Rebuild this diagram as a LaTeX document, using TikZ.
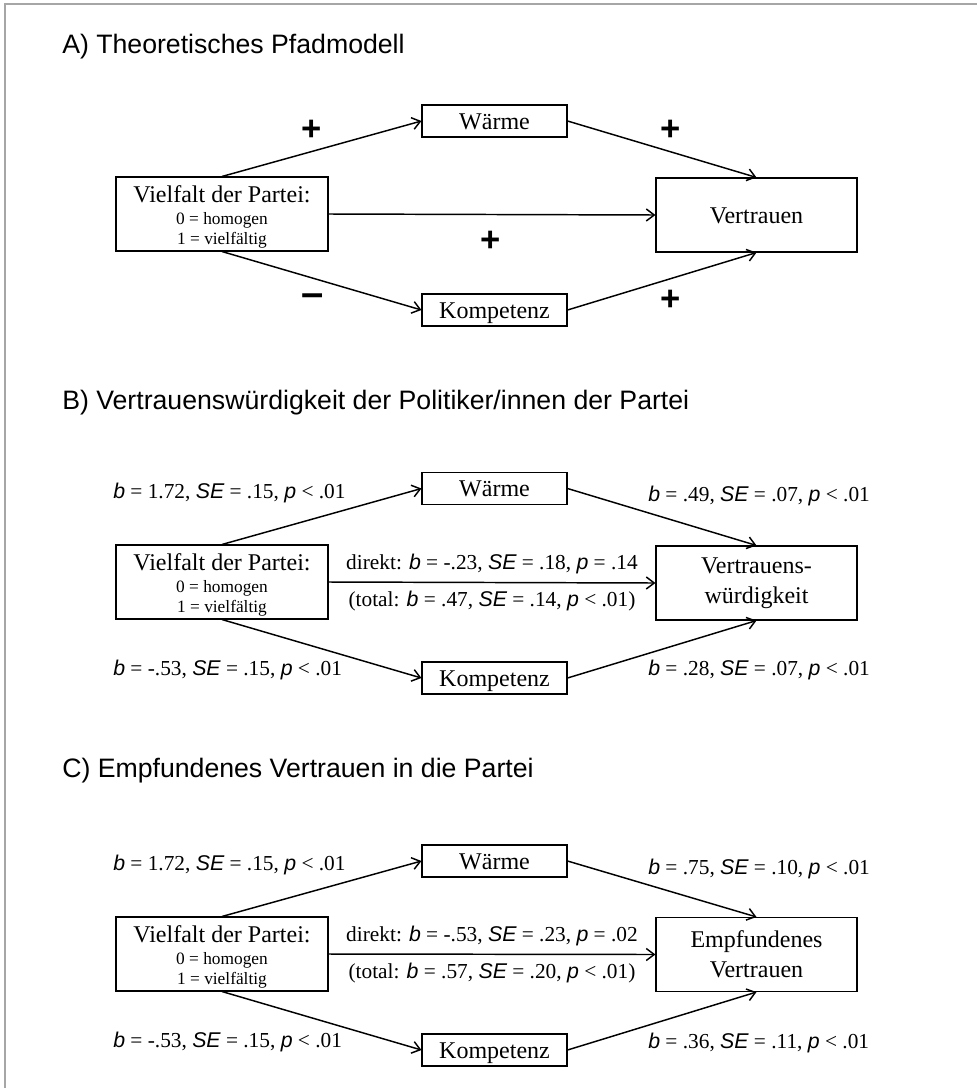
\documentclass[tikz,border=0pt]{standalone}
\usepackage{fontspec}
\setmainfont{Liberation Serif}
\setsansfont{Liberation Sans}
\usetikzlibrary{arrows.meta}

\newcommand{\stat}[1]{{\sffamily\itshape #1}}
\newcommand{\vielfalttext}{\parbox{150pt}{\vspace*{4pt}\centering Vielfalt der Partei:\par\vspace{1.5pt}
    \fontsize{13}{15}\selectfont 0 = homogen\par 1 = vielfältig}}

\begin{document}
\begin{tikzpicture}[x=0.75pt, y=-0.75pt,
    box/.style={draw, line width=0.8pt, inner sep=0pt, align=center, font=\fontsize{18}{22.5}\selectfont},
    oneline/.style={text height=12.5pt, text depth=0.5pt},
    smallbox/.style={box, oneline, minimum width=108.75pt, minimum height=24pt},
    bigbox/.style={draw, line width=0.8pt, inner sep=0pt, font=\fontsize{18}{22.5}\selectfont, minimum width=159pt, minimum height=55.5pt},
    outbox/.style={box, minimum width=150.75pt, minimum height=55.5pt},
    pfeil/.style={line width=1.1pt, -{Straight Barb[length=6pt,width=9pt,line width=1.1pt]}},
    heading/.style={anchor=west, inner sep=0pt, font=\sffamily\fontsize{20}{22}\selectfont},
    sign/.style={inner sep=0pt, font=\sffamily\bfseries\fontsize{26}{26}\selectfont},
    stats/.style={anchor=west, inner sep=0pt, font=\fontsize{16}{18}\selectfont}
  ]
  \useasboundingbox (0,0) rectangle (977,1088);
  \draw[line width=1.5pt, black!35] (5,1088) -- (5,4) -- (977,4);

  % A) theoretical model
  \node[heading] (titelA) at (62,47) {A) Theoretisches Pfadmodell};
  \node[bigbox] (vielfaltA) at (222,214) {\vielfalttext};
  \node[smallbox] (waermeA) at (494.5,121) {Wärme};
  \node[smallbox] (kompA) at (494.5,310) {Kompetenz};
  \node[outbox, oneline] (vertrauenA) at (756.5,215) {Vertrauen};

  \draw[pfeil] (vielfaltA.north) -- (waermeA.west);
  \draw[pfeil] (vielfaltA.south) -- (kompA.west);
  \draw[pfeil] (waermeA.east) -- (vertrauenA.north);
  \draw[pfeil] (kompA.east) -- (vertrauenA.south);
  \draw[pfeil] (vielfaltA.east) -- (vertrauenA.west);

  \node[sign] (plusA1) at (312,130) {+};
  \node[sign] (plusA2) at (671,130) {+};
  \node[sign] (plusA3) at (491,241) {+};
  \node[sign, font=\sffamily\bfseries\fontsize{30}{30}\selectfont] (minusA) at (313,300) {–};
  \node[sign] (plusA4) at (671,300) {+};

  % B) trustworthiness
  \node[heading] (titelB) at (62,403) {B) Vertrauenswürdigkeit der Politiker/innen der Partei};
  \node[bigbox] (vielfaltB) at (222,582) {\vielfalttext};
  \node[smallbox] (waermeB) at (494.5,488.5) {Wärme};
  \node[smallbox] (kompB) at (494.5,678) {Kompetenz};
  \node[outbox] (vertrauenB) at (756.5,583) {Vertrauens-\\würdigkeit};

  \draw[pfeil] (vielfaltB.north) -- (waermeB.west);
  \draw[pfeil] (vielfaltB.south) -- (kompB.west);
  \draw[pfeil] (waermeB.east) -- (vertrauenB.north);
  \draw[pfeil] (kompB.east) -- (vertrauenB.south);
  \draw[pfeil] (vielfaltB.east) -- (vertrauenB.west)
    node[midway, above=6pt, inner sep=0pt, font=\fontsize{16}{18}\selectfont] (direktB) {direkt: \stat{b} = -.23, \stat{SE} = .18, \stat{p} = .14}
    node[midway, below=6pt, inner sep=0pt, font=\fontsize{16}{18}\selectfont] (totalB) {(total: \stat{b} = .47, \stat{SE} = .14, \stat{p} < .01)};

  \node[stats] (sWB) at (113,493) {\stat{b} = 1.72, \stat{SE} = .15, \stat{p} < .01};
  \node[stats] (sKB) at (113,670) {\stat{b} = -.53, \stat{SE} = .15, \stat{p} < .01};
  \node[stats] (sWVB) at (648,496) {\stat{b} = .49, \stat{SE} = .07, \stat{p} < .01};
  \node[stats] (sKVB) at (648,670) {\stat{b} = .28, \stat{SE} = .07, \stat{p} < .01};

  % C) felt trust
  \node[heading] (titelC) at (62,771) {C) Empfundenes Vertrauen in die Partei};
  \node[bigbox] (vielfaltC) at (222,954) {\vielfalttext};
  \node[smallbox] (waermeC) at (494.5,861) {Wärme};
  \node[smallbox] (kompC) at (494.5,1050) {Kompetenz};
  \node[outbox] (vertrauenC) at (756.5,954.5) {Empfundenes\\Vertrauen};

  \draw[pfeil] (vielfaltC.north) -- (waermeC.west);
  \draw[pfeil] (vielfaltC.south) -- (kompC.west);
  \draw[pfeil] (waermeC.east) -- (vertrauenC.north);
  \draw[pfeil] (kompC.east) -- (vertrauenC.south);
  \draw[pfeil] (vielfaltC.east) -- (vertrauenC.west)
    node[midway, above=6pt, inner sep=0pt, font=\fontsize{16}{18}\selectfont] (direktC) {direkt: \stat{b} = -.53, \stat{SE} = .23, \stat{p} = .02}
    node[midway, below=6pt, inner sep=0pt, font=\fontsize{16}{18}\selectfont] (totalC) {(total: \stat{b} = .57, \stat{SE} = .20, \stat{p} < .01)};

  \node[stats] (sWC) at (113,865) {\stat{b} = 1.72, \stat{SE} = .15, \stat{p} < .01};
  \node[stats] (sKC) at (113,1042) {\stat{b} = -.53, \stat{SE} = .15, \stat{p} < .01};
  \node[stats] (sWVC) at (648,869) {\stat{b} = .75, \stat{SE} = .10, \stat{p} < .01};
  \node[stats] (sKVC) at (648,1043) {\stat{b} = .36, \stat{SE} = .11, \stat{p} < .01};
\end{tikzpicture}
\end{document}
